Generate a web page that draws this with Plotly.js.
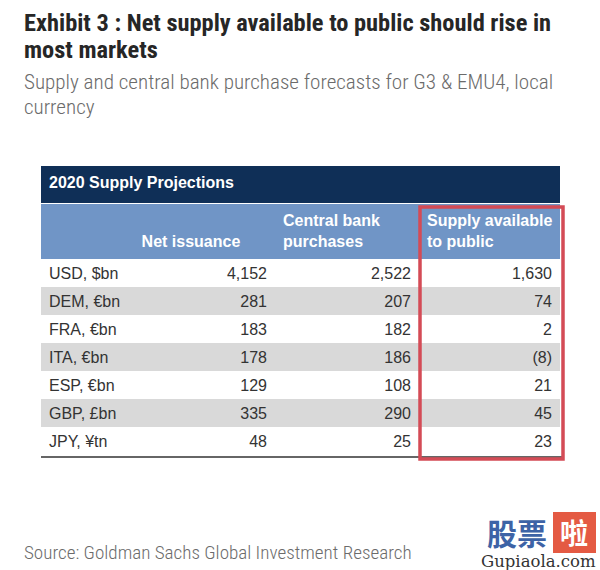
<!DOCTYPE html>
<html>
<head>
<meta charset="utf-8">
<script src="https://cdn.plot.ly/plotly-3.0.1.min.js"></script>
<style>html,body{margin:0;padding:0;background:#fff;}#chart{width:600px;height:570px;}</style>
</head>
<body>
<div id="chart"></div>
<script>
// ---- data ----
var titleLines = ['Exhibit 3 : Net supply available to public should rise in', 'most markets'];
var subtitleLines = ['Supply and central bank purchase forecasts for G3 & EMU4, local', 'currency'];
var sourceText = 'Source: Goldman Sachs Global Investment Research';
var tableTitle = '2020 Supply Projections';
var columnHeaders = ['', '\u00a0<br>Net issuance\u00a0\u00a0\u00a0\u00a0\u00a0\u00a0', 'Central bank<br>purchases', 'Supply available<br>to public'];
var markets = ['USD, $bn', 'DEM, €bn', 'FRA, €bn', 'ITA, €bn', 'ESP, €bn', 'GBP, £bn', 'JPY, ¥tn'];
var netIssuance = [4152, 281, 183, 178, 129, 335, 48];
var cbPurchases = [2522, 207, 182, 186, 108, 290, 25];
var supplyPublic = [1630, 74, 2, -8, 21, 45, 23];

function fmt(v) {
  var s = Math.abs(v).toLocaleString('en-US');
  return v < 0 ? '(' + s + ')' : s;
}

var W = 600, H = 570;
function px(x) { return x / W; }
function py(y) { return 1 - y / H; }

var condensed = '"Roboto Condensed", "Liberation Sans Narrow", "Arial Narrow", "DejaVu Sans Condensed", Roboto, sans-serif';
var arial = 'Arial, "Liberation Sans", sans-serif';

var rowFill = markets.map(function (_, i) { return i % 2 === 0 ? '#ffffff' : '#d9d9d9'; });

var bandTrace = {
  type: 'table',
  domain: { x: [px(41), px(560)], y: [py(204), py(166)] },
  columnwidth: [1],
  header: {
    values: ['<b>' + tableTitle + '</b>'],
    align: 'left',
    height: 38,
    fill: { color: '#0f2f57' },
    line: { width: 0, color: '#0f2f57' },
    font: { family: arial, size: 16, color: '#ffffff' }
  },
  cells: { values: [[]], height: 1, line: { width: 0 } }
};

var mainTrace = {
  type: 'table',
  domain: { x: [px(41), px(560)], y: [py(462), py(204)] },
  columnwidth: [99, 135, 144, 141],
  header: {
    values: columnHeaders.map(function (h) { return h ? '<b>' + h + '</b>' : ''; }),
    align: ['left', 'right', 'left', 'left'],
    height: 55,
    fill: { color: '#7095c6' },
    line: { width: 0, color: '#7095c6' },
    font: { family: arial, size: 16, color: '#ffffff' }
  },
  cells: {
    values: [markets, netIssuance.map(fmt), cbPurchases.map(fmt), supplyPublic.map(fmt)],
    align: ['left', 'right', 'right', 'right'],
    height: 28,
    fill: { color: [rowFill, rowFill, rowFill, rowFill] },
    line: { width: 0, color: 'rgba(0,0,0,0)' },
    font: { family: arial, size: 16, color: '#333333' }
  }
};

function note(text, x, y, font, extra) {
  var a = { text: text, x: px(x), y: py(y), xref: 'paper', yref: 'paper', xanchor: 'left', yanchor: 'middle',
    showarrow: false, font: font };
  if (extra) for (var k in extra) a[k] = extra[k];
  return a;
}

var titleFont = { family: condensed, size: 24.4, color: '#262626', weight: 700 };
var subFont = { family: condensed, size: 21.1, color: '#6b6b6b', weight: 300 };

var layout = {
  width: W, height: H,
  margin: { l: 0, r: 0, t: 0, b: 0 },
  paper_bgcolor: '#ffffff',
  annotations: [
    note(titleLines[0], 22, 22, titleFont),
    note(titleLines[1], 22, 49, titleFont),
    note(subtitleLines[0], 22, 81, subFont),
    note(subtitleLines[1], 22, 106, subFont),
    note(sourceText, 22, 552, { family: condensed, size: 19.1, color: '#6b6b6b', weight: 300 }),
    note('<b>股票</b>', 517, 532, { family: '"Noto Sans CJK SC"', size: 30, color: '#3d63a6' }, { xanchor: 'center' }),
    note('<b>啦</b>', 574, 532, { family: '"Noto Sans CJK SC"', size: 28, color: '#ffffff' }, { xanchor: 'center' }),
    note('Gupiaola.com', 538, 561, { family: '"DejaVu Serif", "Liberation Serif", serif', size: 16.5, color: '#333333' }, { xanchor: 'center' })
  ],
  shapes: [
    { type: 'rect', xref: 'paper', yref: 'paper', x0: px(553), x1: px(596), y0: py(553), y1: py(512),
      fillcolor: '#e45a43', line: { width: 0 }, layer: 'below' },
    { type: 'line', xref: 'paper', yref: 'paper', x0: px(41), x1: px(562), y0: py(457), y1: py(457),
      line: { color: '#333333', width: 1.5 } },
    { type: 'rect', xref: 'paper', yref: 'paper', x0: px(420), x1: px(563), y0: py(459), y1: py(207),
      line: { color: '#d44b56', width: 3.5 }, fillcolor: 'rgba(0,0,0,0)', layer: 'above' }
  ]
};

Plotly.newPlot('chart', [bandTrace, mainTrace], layout, { displayModeBar: false, staticPlot: true });
</script>
</body>
</html>
